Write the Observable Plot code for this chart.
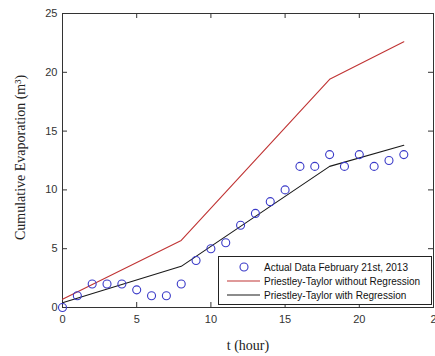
<!DOCTYPE html>
<html><head><meta charset="utf-8">
<script src="https://cdn.jsdelivr.net/npm/d3@7"></script>
<script src="https://cdn.jsdelivr.net/npm/@observablehq/plot@0.6"></script>
<style>
body{margin:0;background:#fff;}
#wrap{position:relative;width:435px;height:356px;}
#legend{position:absolute;left:218px;top:256px;width:214px;height:49px;border:1px solid #222;background:#fff;box-sizing:border-box;font-family:"Liberation Sans",Arial,sans-serif;font-size:10px;color:#111;}
.row{position:absolute;left:0;height:14px;display:flex;align-items:center;white-space:nowrap;}
.row svg{width:45px;height:14px;flex:none;}
</style></head><body>
<div id="wrap"><div id="chart"></div>
<div id="legend"></div></div>
<script>
const hours = [0,1,2,3,4,5,6,7,8,9,10,11,12,13,14,15,16,17,18,19,20,21,22,23];
const actual = [0,1,2,2,2,1.5,1,1,2,4,5,5.5,7,8,9,10,12,12,13,12,13,12,12.5,13];
const lineHours = [0,8,18,23];
const withoutReg = [0.7,5.7,19.4,22.6];
const withReg = [0.4,3.5,12.0,13.8];
const xTicks = [0,5,10,15,20,25];
const xTickLabels = ["0","5","10","15","20","2"];
const yTicks = [0,5,10,15,20,25];
const seriesNames = ["Actual Data February 21st, 2013","Priestley-Taylor without Regression","Priestley-Taylor with Regression"];
const colors = ["#3a3ac8","#c03434","#1a1a1a"];

const pts = hours.map((t,i)=>({t, v: actual[i]}));
const red = lineHours.map((t,i)=>({t, v: withoutReg[i]}));
const blk = lineHours.map((t,i)=>({t, v: withReg[i]}));

const W=435,H=356,mT=13,mB=49,mL=62,mR=2;
const innerH=H-mT-mB, innerW=W-mL-mR;

const chart = Plot.plot({
  width:W,height:H,marginTop:mT,marginBottom:mB,marginLeft:mL,marginRight:mR,
  style:{fontFamily:"'Liberation Sans',Arial,sans-serif",fontSize:"11px",color:"#333",background:"#fff"},
  x:{domain:[0,25]},
  y:{domain:[0,25]},
  marks:[
    Plot.frame({stroke:"#333"}),
    Plot.ruleX(xTicks,{x:d=>d,insetTop:innerH-5,stroke:"#333"}),
    Plot.ruleX(xTicks,{x:d=>d,insetBottom:innerH-5,stroke:"#333"}),
    Plot.ruleY(yTicks,{y:d=>d,insetRight:innerW-5,stroke:"#333"}),
    Plot.ruleY(yTicks,{y:d=>d,insetLeft:innerW-5,stroke:"#333"}),
    Plot.axisX(xTicks,{tickSize:0,tickPadding:8,tickFormat:(d,i)=>xTickLabels[i],label:null,fill:"#333"}),
    Plot.axisY(yTicks,{tickSize:0,tickPadding:5,label:null,fill:"#333"}),
    Plot.line(red,{x:"t",y:"v",stroke:colors[1],strokeWidth:1.1}),
    Plot.line(blk,{x:"t",y:"v",stroke:colors[2],strokeWidth:1.1}),
    Plot.dot(pts,{x:"t",y:"v",r:4,stroke:colors[0],strokeWidth:1.1,fill:"none"}),
    Plot.text(["t (hour)"],{frameAnchor:"bottom",dy:42,fontFamily:"'Liberation Serif','Times New Roman',serif",fontSize:14,fill:"#222"}),
    Plot.text(["Cumulative Evaporation (m³)"],{frameAnchor:"left",textAnchor:"middle",dx:-42,dy:-3,rotate:-90,fontFamily:"'Liberation Serif','Times New Roman',serif",fontSize:14,fill:"#222"})
  ]
});
document.getElementById("chart").append(chart);

const lg = document.getElementById("legend");
seriesNames.forEach((name,i)=>{
  const row=document.createElement("div");
  row.className="row";
  row.style.top=(3+i*14)+"px";
  const sw = i===0
    ? `<svg><circle cx="25" cy="7" r="4" fill="none" stroke="${colors[0]}" stroke-width="1.1"/></svg>`
    : `<svg><line x1="8" x2="41" y1="7" y2="7" stroke="${colors[i]}" stroke-width="1.1"/></svg>`;
  row.innerHTML = sw + `<span>${name}</span>`;
  lg.append(row);
});
</script>
</body></html>
